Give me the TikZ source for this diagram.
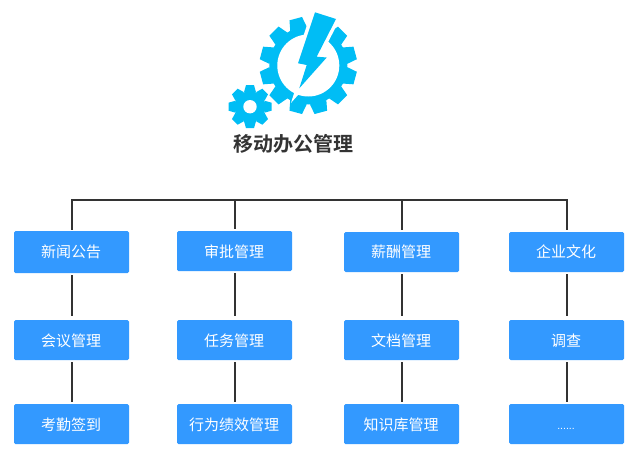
\documentclass[tikz,border=0pt]{standalone}
\usepackage{fontspec}
\setmainfont{Noto Sans CJK SC}
\newfontfamily\boldcjk{Noto Sans CJK SC Bold}
\newfontfamily\dotfont{Liberation Sans}
\definecolor{boxblue}{HTML}{3399FF}
\definecolor{gearcyan}{HTML}{00BDF5}
\definecolor{linedark}{HTML}{333333}
\tikzset{
  item/.style={fill=boxblue,draw=none,rounded corners=1.5pt,minimum width=115pt,minimum height=40pt,inner sep=0pt,text=white,font=\fontsize{15}{15}\selectfont,anchor=center},
  link/.style={draw=linedark,line width=2pt},
  gearfill/.style={fill=gearcyan,draw=none}
}
\newcommand{\lab}[2][6.5]{\raisebox{-#1pt}[0pt][0pt]{\kern-1pt #2}}
\newcommand{\gearteeth}[7]{%
  % centre x, y, number, body r, tip r, half base, half tip
  \foreach \k in {1,...,#3}{
    \fill[gearfill,shift={(#1,#2)},rotate={\k*360/#3+15*(#3-8)/4}]
      (#4-1,-#6) -- (#5,-#7) -- (#5,#7) -- (#4-1,#6) -- cycle;
  }
}
\begin{document}
\begin{tikzpicture}[x=1pt,y=-1pt]
\useasboundingbox (0,0) rectangle (632,463);
% big gear
\gearteeth{308.3}{65.5}{12}{39}{48.5}{8.5}{6.5}
\fill[gearfill] (308.3,65.5) circle[radius=39pt];
\fill[white] (308.3,65.5) circle[radius=31pt];
% bolt
\path[fill=white,draw=white,line width=7pt,line join=miter] (315,12.3) -- (336,19) -- (316.7,56.7) -- (326.7,57.5) -- (299.3,88.3) -- (306.7,65) -- (298,63.3) -- cycle;
\fill[gearfill] (315,12.3) -- (336,19) -- (316.7,56.7) -- (326.7,57.5) -- (299.3,88.3) -- (306.7,65) -- (298,63.3) -- cycle;
% small gear
\gearteeth{250}{106.7}{8}{15.5}{21.5}{6}{4}
\fill[gearfill] (250,106.7) circle[radius=15.5pt];
\fill[white] (250,106.7) circle[radius=6.7pt];
% title
\node[text=linedark,font=\boldcjk\fontsize{20}{20}\selectfont,inner sep=0pt] (title) at (293,143.5) {移动办公管理};
% boxes
\node[item,minimum height=42pt] (a1) at (71.5,252) {\lab[5.5]{新闻公告}};
\node[item] (a2) at (71.5,340) {\lab{会议管理}};
\node[item] (a3) at (71.5,424) {\lab{考勤签到}};
\node[item] (b1) at (234.5,251) {\lab{审批管理}};
\node[item] (b2) at (234.5,340) {\lab{任务管理}};
\node[item] (b3) at (234.5,424) {\lab{行为绩效管理}};
\node[item] (c1) at (401.5,252) {\lab[5.5]{薪酬管理}};
\node[item] (c2) at (401.5,340) {\lab{文档管理}};
\node[item] (c3) at (401.5,424) {\lab{知识库管理}};
\node[item] (d1) at (566.5,252) {\lab[5.5]{企业文化}};
\node[item] (d2) at (566.5,340) {\lab{调查}};
\node[item] (d3) at (566.5,424) {\lab[5.5]{\dotfont\fontsize{10.5}{10.5}\selectfont ......}};
% bus
\coordinate (busa) at (72,200);
\coordinate (busb) at (235,200);
\coordinate (busc) at (402,200);
\coordinate (busd) at (567,200);
\draw[link,line cap=rect] (a1.north -| busa) ++(0,-2) -- (busa) -- (busd) -- ++(0,29);
\draw[link,shorten >=2pt] (busb) -- (b1.north -| busb);
\draw[link,shorten >=2pt] (busc) -- (c1.north -| busc);
% vertical links
\foreach \n/\b in {a/busa,b/busb,c/busc,d/busd}{
  \draw[link,shorten <=2pt,shorten >=4pt] (\n1.south -| \b) -- (\n2.north -| \b);
  \draw[link,shorten <=2pt,shorten >=2pt] (\n2.south -| \b) -- (\n3.north -| \b);
}
\end{tikzpicture}
\end{document}
